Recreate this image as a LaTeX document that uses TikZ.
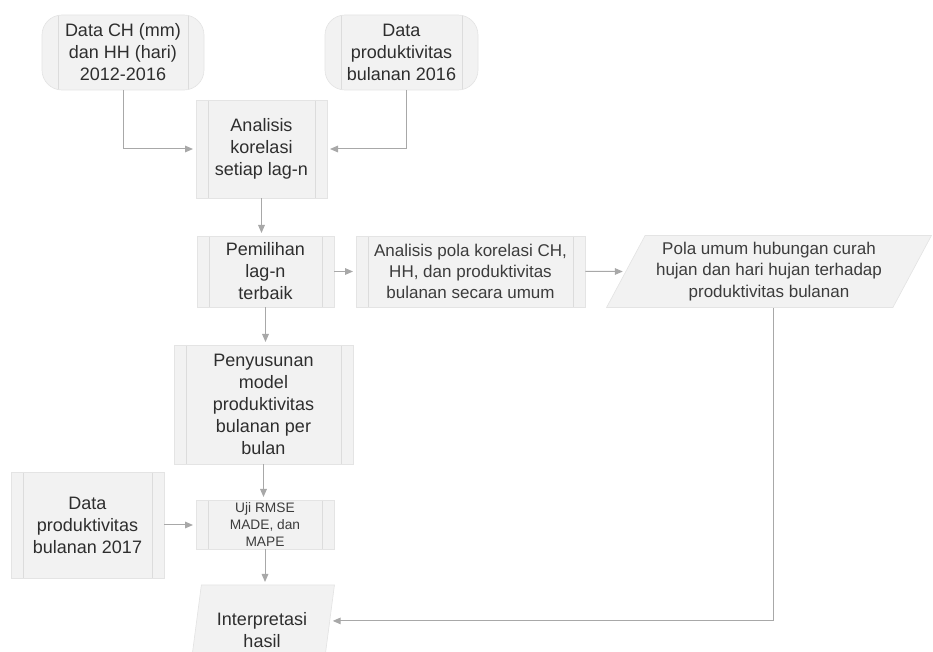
\documentclass[tikz,border=0pt]{standalone}
\usepackage{fontspec}
\setmainfont{Liberation Sans}
\usetikzlibrary{arrows.meta,shapes.geometric,calc}
\definecolor{boxfill}{HTML}{F2F2F2}
\definecolor{boxline}{HTML}{E4E4E4}
\definecolor{innerl}{HTML}{DCDCDC}
\definecolor{connc}{HTML}{A8A8A8}
\definecolor{txt}{HTML}{2E2E2E}
\definecolor{txtl}{HTML}{3C3C3C}
\newdimen\px \px=0.75pt
\begin{document}
\begin{tikzpicture}[x=0.75pt,y=-0.75pt,
  base/.style={fill=boxfill,draw=boxline,line width=0.5pt,text=txt,align=center,inner sep=0pt,
    font=\fontsize{13.5pt}{16.5pt}\selectfont},
  innerlines/.style={path picture={
    \draw[innerl,line width=0.7pt] ([xshift=#1]path picture bounding box.north west) -- ([xshift=#1]path picture bounding box.south west);
    \draw[innerl,line width=0.7pt] ([xshift=-#1]path picture bounding box.north east) -- ([xshift=-#1]path picture bounding box.south east);}},
  innerlines/.default=9pt,
  ppbox/.style={base,rectangle,innerlines},
  termbox/.style={base,rectangle,rounded corners=15pt,innerlines=12pt},
  parabox/.style={base,trapezium,trapezium stretches=true},
  midfont/.style={text=txtl,font=\fontsize{12.75pt}{16pt}\selectfont},
  smallfont/.style={text=txtl,font=\fontsize{10.3pt}{12.4pt}\selectfont},
  conn/.style={draw=connc,line width=0.75pt,-{Triangle[length=6pt,width=5pt]},shorten >=2pt}
]
\useasboundingbox (0,0) rectangle (933,652);

\node[termbox,minimum width=162\px,minimum height=75\px] (A) at (123,52.5) {Data CH (mm)\\dan HH (hari)\\2012-2016};
\node[termbox,minimum width=153\px,minimum height=75\px] (B) at (401.5,52.5) {Data\\produktivitas\\bulanan 2016};
\node[ppbox,minimum width=131\px,minimum height=98\px] (C) at (261.5,149) {Analisis\\korelasi\\setiap lag-n};
\node[ppbox,minimum width=137\px,minimum height=71\px] (D) at (265.5,271.5) {Pemilihan\\lag-n\\terbaik};
\node[ppbox,midfont,minimum width=229\px,minimum height=71\px] (E) at (470.5,271.5) {Analisis pola korelasi CH,\\HH, dan produktivitas\\bulanan secara umum};
\node[parabox,midfont,trapezium left angle=59,trapezium right angle=121,minimum width=326\px,minimum height=72\px] (F) at (769,271.5) {Pola umum hubungan curah\\hujan dan hari hujan terhadap\\produktivitas bulanan};
\node[ppbox,minimum width=179\px,minimum height=119\px] (H) at (263.5,404.5) {Penyusunan\\model\\produktivitas\\bulanan per\\bulan};
\node[ppbox,minimum width=153\px,minimum height=106\px] (I) at (87.5,525) {Data\\produktivitas\\bulanan 2017};
\node[ppbox,smallfont,minimum width=138\px,minimum height=49\px] (J) at (265,524.5) {Uji RMSE\\MADE, dan\\MAPE};
\node[parabox,trapezium left angle=76,trapezium right angle=104,minimum width=146\px,minimum height=90\px] (G) at (262,630) {Interpretasi\\hasil};

\draw[conn] (A.south) |- (C.west);
\draw[conn] ([xshift=4pt]B.south) |- (C.east);
\draw[conn] (C.south) -- (C.south |- D.north);
\draw[conn] (D.east) -- (E.west);
\draw[conn] (E) -- (F);
\draw[conn] (D.south) -- (D.south |- H.north);
\draw[conn] (H.south) -- (H.south |- J.north);
\draw[conn] (I.east) -- (I.east -| J.west);
\draw[conn] (J.south) -- (J.south |- G.north);
\draw[conn] ([xshift=3pt]F.south) |- ($(G.top right corner)!0.4!(G.bottom right corner)$);
\end{tikzpicture}
\end{document}
